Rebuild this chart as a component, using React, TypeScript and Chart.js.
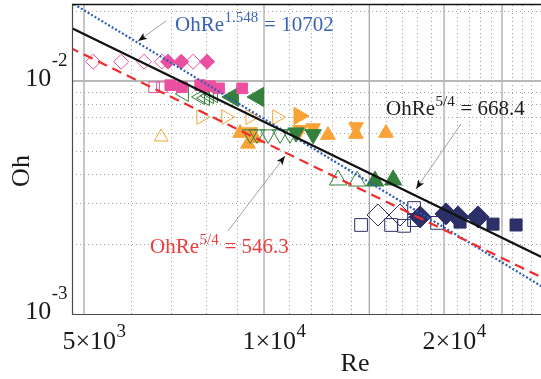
import React, { useEffect, useRef } from "react";
import { Chart, registerables } from "chart.js";
Chart.register(...registerables);

// ---------- colours ----------
const PINK = "#ec4f9f";
const GREEN = "#35803c";
const ORANGE = "#f9a235";
const NAVY = "#2d3068";
const BLUE = "#2b5db8";
const RED = "#ef2d2d";

// ---------- axes ----------
const X_MIN = 4774;
const X_MAX = 29050;
const Y_MIN = 0.001;
const Y_MAX = 0.0214;
const xTickValues = [5000, 10000, 20000];
const xTickMain = ["5×10", "1×10", "2×10"];
const xTickSup = ["3", "4", "4"];
const yTickValues = [0.001, 0.01];
const yTickMain = ["10", "10"];
const yTickSup = ["-3", "-2"];
const xGridMajor = [5000, 10000, 15000, 20000, 25000];
const xGridMinor = [6000, 7000, 8000, 9000, 11000, 12000, 13000, 14000, 16000, 17000, 18000, 19000, 21000, 22000, 23000, 24000, 26000, 27000, 28000, 29000];
const yGridMajor = [0.01];
const yGridMinor = [0.002, 0.003, 0.004, 0.005, 0.006, 0.007, 0.008, 0.009, 0.02];

// ---------- fit lines: Oh * Re^n = C ----------
const fitC = [668.4, 546.3, 10702];
const fitN = [1.25, 1.25, 1.548];
const fitRe = [4000, 40000];

// ---------- data (Re, Oh) ----------
const pinkOpenDiamondRe = [5180, 5770, 6300, 6750, 7610];
const pinkOpenDiamondOh = [0.0121, 0.0121, 0.0121, 0.0121, 0.0121];
const pinkDiamondRe = [6910, 7270, 8030];
const pinkDiamondOh = [0.0121, 0.0121, 0.0121];
const pinkOpenSquareRe = [6550, 6750];
const pinkOpenSquareOh = [0.0094, 0.0094];
const pinkSquareRe = [6970, 7290, 7820, 8120, 8410, 9190];
const pinkSquareOh = [0.0096, 0.0094, 0.0096, 0.0095, 0.0093, 0.0093];

const greenOpenLeftRe = [7350, 7820, 7970, 8090, 8220];
const greenOpenLeftOh = [0.0088, 0.00854, 0.00845, 0.00862, 0.00871];
const greenLeftRe = [8870, 9770];
const greenLeftOh = [0.00854, 0.00854];
const greenOpenDownRe = [9480, 9730, 10160, 10640, 11050];
const greenOpenDownOh = [0.0059, 0.0059, 0.0059, 0.0059, 0.0059];
const greenDownRe = [11310, 12080];
const greenDownOh = [0.006, 0.0059];
const greenOpenUpRe = [13300, 14310];
const greenOpenUpOh = [0.00376, 0.00372];
const greenUpRe = [15330, 16440];
const greenUpOh = [0.00372, 0.00376];

const orangeOpenRightRe = [7850, 8640, 9480, 10510];
const orangeOpenRightOh = [0.007, 0.007, 0.007, 0.007];
const orangeRightRe = [11440];
const orangeRightOh = [0.00708];
const orangeOpenUpRe = [6730];
const orangeOpenUpOh = [0.00575];
const orangeUpRe = [9120, 9400, 9660, 12790, 14250, 15990];
const orangeUpOh = [0.00598, 0.00537, 0.00569, 0.00586, 0.00592, 0.00598];
const orangeDownRe = [9480, 11490, 12080, 14250];
const orangeDownOh = [0.00604, 0.00617, 0.00628, 0.00635];

const navyOpenSquareRe = [14530, 16310, 17150, 17820, 17820, 19470];
const navyOpenSquareOh = [0.00241, 0.00241, 0.00239, 0.00285, 0.00253, 0.00246];
const navyOpenDiamondRe = [15510, 16880];
const navyOpenDiamondOh = [0.00266, 0.00266];
const navyDiamondRe = [18240, 20150, 21110, 22800];
const navyDiamondOh = [0.00261, 0.00269, 0.00261, 0.00261];
const navySquareRe = [21270, 24150, 26390];
const navySquareOh = [0.00248, 0.00243, 0.00241];

// ---------- annotations (data coordinates) ----------
const annTexts = [
  { color: "#3a63b4", main: "OhRe", sup: "1.548", rest: " = 10702", at: [7099, 0.01639], from: [6856, 0.01809], to: [6158, 0.01484] },
  { color: "#222222", main: "OhRe", sup: "5/4", rest: " = 668.4", at: [15996, 0.007146], from: [21354, 0.006537], to: [17956, 0.00344] },
  { color: "#ef3b3b", main: "OhRe", sup: "5/4", rest: " = 546.3", at: [6448, 0.001827], from: [8706, 0.002271], to: [10842, 0.004766] },
];

const FONT = '"Liberation Serif", "Times New Roman", serif';

function pts(re: number[], oh: number[]) {
  return re.map((r, i) => ({ x: r, y: oh[i] }));
}

function markers(re: number[], oh: number[], color: string, style: string, radius: number, filled: boolean, rotation = 0) {
  return {
    data: pts(re, oh),
    pointStyle: style,
    pointRadius: radius,
    pointRotation: rotation,
    pointBackgroundColor: filled ? color : "rgba(0,0,0,0)",
    pointBorderColor: color,
    pointBorderWidth: 1,
    showLine: false,
  };
}

function fitLine(k: number, color: string, dash: number[]) {
  return {
    data: fitRe.map((r) => ({ x: r, y: fitC[k] * Math.pow(r, -fitN[k]) })),
    showLine: true,
    pointRadius: 0,
    borderColor: color,
    borderWidth: 2.2,
    borderDash: dash,
    borderCapStyle: "butt",
    fill: false,
  };
}

function drawSupText(ctx: CanvasRenderingContext2D, main: string, sup: string, rest: string, x: number, y: number, mainSize: number, supSize: number, rise: number, align: "left" | "center" | "right") {
  ctx.font = `${mainSize}px ${FONT}`;
  const w1 = ctx.measureText(main).width;
  const w3 = ctx.measureText(rest).width;
  ctx.font = `${supSize}px ${FONT}`;
  const w2 = ctx.measureText(sup).width;
  const total = w1 + w2 + w3;
  let sx = x;
  if (align === "center") sx = x - total / 2;
  if (align === "right") sx = x - total;
  ctx.textAlign = "left";
  ctx.textBaseline = "alphabetic";
  ctx.font = `${mainSize}px ${FONT}`;
  ctx.fillText(main, sx, y);
  ctx.font = `${supSize}px ${FONT}`;
  ctx.fillText(sup, sx + w1 + 0.5, y - rise);
  ctx.font = `${mainSize}px ${FONT}`;
  if (rest) ctx.fillText(rest, sx + w1 + w2 + 1, y);
}

const gridPlugin = {
  id: "customGrid",
  beforeDatasetsDraw(chart: any) {
    const { ctx, chartArea: a, scales } = chart;
    const xs = scales.x;
    const ys = scales.y;
    ctx.save();
    ctx.beginPath();
    ctx.rect(a.left, a.top, a.right - a.left, a.bottom - a.top);
    ctx.clip();
    ctx.strokeStyle = "#a3a3a3";
    ctx.lineWidth = 1;
    ctx.setLineDash([1, 3]);
    xGridMinor.forEach((v) => {
      const p = Math.round(xs.getPixelForValue(v)) + 0.5;
      ctx.beginPath();
      ctx.moveTo(p, a.bottom);
      ctx.lineTo(p, a.top);
      ctx.stroke();
    });
    yGridMinor.forEach((v) => {
      const p = Math.round(ys.getPixelForValue(v)) + 0.5;
      ctx.beginPath();
      ctx.moveTo(a.left, p);
      ctx.lineTo(a.right, p);
      ctx.stroke();
    });
    ctx.setLineDash([]);
    ctx.strokeStyle = "#a8a8a8";
    ctx.lineWidth = 1.3;
    xGridMajor.forEach((v) => {
      const p = xs.getPixelForValue(v);
      ctx.beginPath();
      ctx.moveTo(p, a.bottom);
      ctx.lineTo(p, a.top);
      ctx.stroke();
    });
    ctx.strokeStyle = "#b8b8b8";
    ctx.lineWidth = 2;
    yGridMajor.forEach((v) => {
      const p = ys.getPixelForValue(v);
      ctx.beginPath();
      ctx.moveTo(a.left, p);
      ctx.lineTo(a.right, p);
      ctx.stroke();
    });
    ctx.restore();
  },
};

function arrow(ctx: CanvasRenderingContext2D, x1: number, y1: number, x2: number, y2: number) {
  ctx.strokeStyle = "#8a8a8a";
  ctx.lineWidth = 0.8;
  ctx.beginPath();
  ctx.moveTo(x1, y1);
  ctx.lineTo(x2, y2);
  ctx.stroke();
  const ang = Math.atan2(y2 - y1, x2 - x1);
  const L = 9;
  const W = 3.5;
  const bx = x2 - L * Math.cos(ang);
  const by = y2 - L * Math.sin(ang);
  ctx.fillStyle = "#111";
  ctx.beginPath();
  ctx.moveTo(x2, y2);
  ctx.lineTo(bx + W * Math.sin(ang), by - W * Math.cos(ang));
  ctx.lineTo(bx + 2 * Math.cos(ang), by + 2 * Math.sin(ang));
  ctx.lineTo(bx - W * Math.sin(ang), by + W * Math.cos(ang));
  ctx.closePath();
  ctx.fill();
}

const overlayPlugin = {
  id: "overlay",
  afterDatasetsDraw(chart: any) {
    const { ctx, chartArea: a, scales } = chart;
    const xs = scales.x;
    const ys = scales.y;
    ctx.save();
    ctx.strokeStyle = "#4a4a4a";
    ctx.lineWidth = 1.2;
    ctx.beginPath();
    ctx.moveTo(a.left + 0.5, a.top);
    ctx.lineTo(a.left + 0.5, a.bottom + 0.5);
    ctx.lineTo(a.right, a.bottom + 0.5);
    ctx.stroke();
    ctx.strokeStyle = "#111";
    ctx.lineWidth = 1.6;
    ctx.beginPath();
    ctx.moveTo(a.left, a.top + 0.5);
    ctx.lineTo(a.right, a.top + 0.5);
    ctx.stroke();

    ctx.fillStyle = "#1a1a1a";
    yTickValues.forEach((v, i) => {
      const p = ys.getPixelForValue(v);
      drawSupText(ctx, yTickMain[i], yTickSup[i], "", a.left - 5, p + 5, 26, 19, 20, "right");
    });
    xTickValues.forEach((v, i) => {
      const p = xs.getPixelForValue(v);
      drawSupText(ctx, xTickMain[i], xTickSup[i], "", p + 10, a.bottom + 35, 26, 19, 12, "center");
    });

    ctx.font = `26px ${FONT}`;
    ctx.textAlign = "center";
    ctx.textBaseline = "alphabetic";
    ctx.fillText("Re", 355, a.bottom + 57);
    ctx.save();
    ctx.translate(29, 171);
    ctx.rotate(-Math.PI / 2);
    ctx.fillText("Oh", 0, 0);
    ctx.restore();

    annTexts.forEach((t) => {
      arrow(ctx, xs.getPixelForValue(t.from[0]), ys.getPixelForValue(t.from[1]), xs.getPixelForValue(t.to[0]), ys.getPixelForValue(t.to[1]));
      ctx.fillStyle = t.color;
      drawSupText(ctx, t.main, t.sup, t.rest, xs.getPixelForValue(t.at[0]), ys.getPixelForValue(t.at[1]), 21, 15, 9, "left");
    });
    ctx.restore();
  },
};

export default function App() {
  const ref = useRef<HTMLCanvasElement | null>(null);
  useEffect(() => {
    document.body.style.margin = "0";
    const canvas = ref.current;
    if (!canvas) return;
    const datasets: any[] = [
      fitLine(0, "#111111", []),
      fitLine(1, RED, [10, 6]),
      fitLine(2, BLUE, [2, 2]),
      markers(navySquareRe, navySquareOh, NAVY, "rect", 8.5, true),
      markers(navyDiamondRe, navyDiamondOh, NAVY, "rectRot", 11, true),
      markers(navyOpenDiamondRe, navyOpenDiamondOh, NAVY, "rectRot", 11, false),
      markers(navyOpenSquareRe, navyOpenSquareOh, NAVY, "rect", 9, false),
      markers(pinkSquareRe, pinkSquareOh, PINK, "rect", 7.5, true),
      markers(pinkOpenSquareRe, pinkOpenSquareOh, PINK, "rect", 7.5, false),
      markers(pinkDiamondRe, pinkDiamondOh, PINK, "rectRot", 7.5, true),
      markers(pinkOpenDiamondRe, pinkOpenDiamondOh, PINK, "rectRot", 7.5, false),
      markers(greenUpRe, greenUpOh, GREEN, "triangle", 10, true, 0),
      markers(greenOpenUpRe, greenOpenUpOh, GREEN, "triangle", 10, false, 0),
      markers(greenDownRe, greenDownOh, GREEN, "triangle", 9.5, true, 180),
      markers(greenOpenDownRe, greenOpenDownOh, GREEN, "triangle", 9, false, 180),
      markers(greenLeftRe, greenLeftOh, GREEN, "triangle", 11, true, -90),
      markers(greenOpenLeftRe, greenOpenLeftOh, GREEN, "triangle", 8.7, false, -90),
      markers(orangeRightRe, orangeRightOh, ORANGE, "triangle", 10, true, 90),
      markers(orangeOpenRightRe, orangeOpenRightOh, ORANGE, "triangle", 8.5, false, 90),
      markers(orangeDownRe, orangeDownOh, ORANGE, "triangle", 8.5, true, 180),
      markers(orangeUpRe, orangeUpOh, ORANGE, "triangle", 8.5, true, 0),
      markers(orangeOpenUpRe, orangeOpenUpOh, ORANGE, "triangle", 8, false, 0),
    ];
    const chart = new Chart(canvas, {
      type: "scatter",
      data: { datasets },
      options: {
        animation: false,
        responsive: false,
        devicePixelRatio: 1,
        events: [],
        layout: { autoPadding: false, padding: { top: 4, left: 0, right: 0, bottom: 0 } },
        plugins: { legend: { display: false }, tooltip: { enabled: false } },
        scales: {
          x: {
            type: "logarithmic",
            min: X_MIN,
            max: X_MAX,
            grid: { display: false },
            border: { display: false },
            ticks: { display: false },
            afterFit: (s: any) => {
              s.height = 65;
            },
          },
          y: {
            type: "logarithmic",
            min: Y_MIN,
            max: Y_MAX,
            grid: { display: false },
            border: { display: false },
            ticks: { display: false },
            afterFit: (s: any) => {
              s.width = 72;
            },
          },
        },
      } as any,
      plugins: [gridPlugin, overlayPlugin],
    });
    return () => chart.destroy();
  }, []);
  return (
    <div style={{ position: "absolute", left: 0, top: 0, width: 541, height: 379, background: "#fff" }}>
      <canvas ref={ref} width={541} height={379} style={{ width: 541, height: 379, display: "block" }} />
    </div>
  );
}
